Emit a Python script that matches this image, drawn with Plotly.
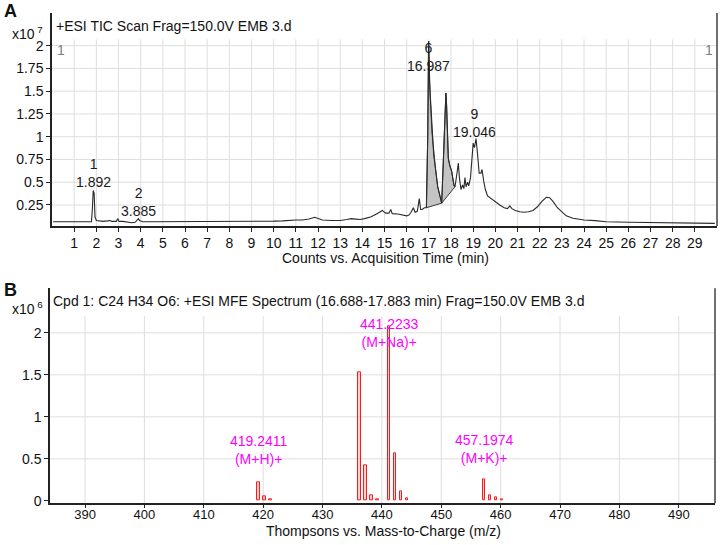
import numpy as np
import plotly.graph_objects as go

# ---------------- DATA ----------------
# Panel A: TIC chromatogram (counts x10^7)
tic_time = [0.05, 1.0, 1.78, 1.82, 1.86, 1.9, 1.94, 2.0, 2.1, 2.3, 2.5, 2.6, 2.7, 2.9, 2.97, 3.02,
            3.2, 3.4, 3.6, 3.75, 3.85, 3.9, 3.95, 4.1, 4.5, 5.0, 5.5, 5.52, 5.55, 6.0, 6.2, 6.5,
            7.0, 8.0, 9.0, 10.0, 10.4, 10.6, 10.8, 11.0, 11.3, 11.6, 11.85, 12.0, 12.2, 12.6,
            13.0, 13.3, 13.5, 13.7, 13.9, 14.1, 14.4, 14.7, 14.9, 15.05, 15.2, 15.28, 15.35,
            15.6, 15.8, 16.0, 16.1, 16.2, 16.3, 16.38, 16.48, 16.57, 16.63, 16.7, 16.8, 16.89,
            16.95, 16.99, 17.03, 17.06, 17.14, 17.22, 17.3, 17.4, 17.5, 17.58, 17.65, 17.72,
            17.77, 17.8, 17.84, 17.88, 17.95, 18.03, 18.13, 18.18, 18.27, 18.33, 18.38, 18.45,
            18.52, 18.58, 18.63, 18.68, 18.75, 18.8, 18.88, 18.95, 19.0, 19.06, 19.13, 19.2,
            19.27, 19.35, 19.4, 19.47, 19.55, 19.65, 19.75, 19.9, 20.05, 20.2, 20.4, 20.55,
            20.65, 20.75, 20.9, 21.1, 21.3, 21.5, 21.7, 21.9, 22.1, 22.3, 22.45, 22.6, 22.8,
            23.0, 23.2, 23.5, 23.8, 24.0, 24.5, 25.0, 26.0, 27.0, 27.5, 28.0, 28.5, 29.0, 29.9]
tic_counts = [0.065, 0.065, 0.065, 0.2, 0.41, 0.38, 0.12, 0.08, 0.075, 0.07, 0.075, 0.08, 0.07, 0.07, 0.1, 0.07,
              0.07, 0.065, 0.055, 0.06, 0.09, 0.1, 0.08, 0.065, 0.065, 0.065, 0.065, 0.072, 0.065, 0.065, 0.068, 0.07,
              0.07, 0.07, 0.07, 0.072, 0.075, 0.08, 0.078, 0.085, 0.085, 0.095, 0.115, 0.1, 0.085, 0.08,
              0.08, 0.09, 0.1, 0.095, 0.09, 0.1, 0.12, 0.16, 0.19, 0.16, 0.16, 0.2, 0.155,
              0.15, 0.14, 0.13, 0.14, 0.17, 0.22, 0.17, 0.18, 0.32, 0.2, 0.2, 0.22, 0.22,
              1.0, 2.05, 1.6, 1.45, 1.05, 0.8, 0.65, 0.45, 0.35, 0.27, 0.7, 1.3,
              1.48, 1.35, 1.0, 0.76, 0.68, 0.62, 0.47, 0.45, 0.6, 0.71, 0.55, 0.42,
              0.47, 0.43, 0.55, 0.45, 0.5, 0.46, 0.55, 0.75, 0.93, 0.88, 0.98, 0.8,
              0.6, 0.6, 0.64, 0.52, 0.42, 0.35, 0.33, 0.31, 0.28, 0.25, 0.22, 0.21,
              0.24, 0.21, 0.19, 0.175, 0.17, 0.175, 0.19, 0.23, 0.29, 0.335, 0.33, 0.29, 0.22,
              0.17, 0.13, 0.105, 0.09, 0.085, 0.078, 0.065, 0.06, 0.055, 0.058, 0.053, 0.055, 0.05, 0.048]
# integrated (shaded) peak windows: start, end (min)
int_start = [16.89, 17.58]
int_end = [17.58, 18.18]
# peak labels
peak_num = ["1", "2", "6", "9"]
peak_rt = [1.892, 3.885, 16.987, 19.046]
peak_label_y = [0.6, 0.28, 1.88, 1.15]
tic_xticks = list(range(1, 30))
tic_yticks = [0.25, 0.5, 0.75, 1, 1.25, 1.5, 1.75, 2]

# Panel B: MS spectrum (counts x10^6)
ms_mz = [419.24, 420.24, 421.25, 436.27, 437.27, 438.28, 439.28, 441.22, 442.23, 443.23, 444.23,
         457.20, 458.20, 459.20, 460.20]
ms_int = [0.22, 0.055, 0.015, 1.53, 0.42, 0.07, 0.02, 2.08, 0.56, 0.11, 0.03,
          0.25, 0.07, 0.04, 0.015]
ms_label_mz = [419.2411, 441.2233, 457.1974]
ms_label_ion = ["(M+H)+", "(M+Na)+", "(M+K)+"]
ms_label_y = [0.6, 2.0, 0.62]
ms_xticks = [390, 400, 410, 420, 430, 440, 450, 460, 470, 480, 490]
ms_yticks = [0, 0.5, 1, 1.5, 2]

# ---------------- FIGURE ----------------
FONT = "Liberation Sans, Arial, sans-serif"
fig = go.Figure()

# shaded integration areas
t_arr = np.array(tic_time)
c_arr = np.array(tic_counts)
for s, e in zip(int_start, int_end):
    mask = (t_arr > s) & (t_arr < e)
    xs = [s] + list(t_arr[mask]) + [e]
    ys = [float(np.interp(s, t_arr, c_arr))] + list(c_arr[mask]) + [float(np.interp(e, t_arr, c_arr))]
    xs = xs + [s]
    ys = ys + [ys[0]]
    fig.add_trace(go.Scatter(x=xs, y=ys, fill="toself", fillcolor="#c4c4c4",
                             line=dict(color="#3a3a3a", width=1), mode="lines",
                             xaxis="x", yaxis="y", hoverinfo="skip", showlegend=False))

fig.add_trace(go.Scatter(x=tic_time, y=tic_counts, mode="lines",
                         line=dict(color="#2a2a2a", width=1.1),
                         xaxis="x", yaxis="y", showlegend=False))

fig.add_trace(go.Bar(x=ms_mz, y=ms_int, width=0.45,
                     marker=dict(color="rgba(255,120,120,0.35)", line=dict(color="#ff1a1a", width=1)),
                     xaxis="x2", yaxis="y2", showlegend=False))

A_XR = [0.0, 30.0]
A_YR = [0.02, 2.36]
B_XR = [384.1, 496.1]
B_YR = [-0.03, 2.53]
A_GRID_TOP = 2.07
B_GRID_TOP = 2.2

shapes = []
grid_col = "#dedede"
for t in tic_xticks:
    shapes.append(dict(type="line", xref="x", yref="y", x0=t, x1=t, y0=A_YR[0], y1=A_GRID_TOP,
                       line=dict(color=grid_col, width=1), layer="below"))
for v in tic_yticks:
    shapes.append(dict(type="line", xref="x", yref="y", x0=A_XR[0], x1=A_XR[1], y0=v, y1=v,
                       line=dict(color=grid_col, width=1), layer="below"))
for t in ms_xticks:
    shapes.append(dict(type="line", xref="x2", yref="y2", x0=t, x1=t, y0=B_YR[0], y1=B_GRID_TOP,
                       line=dict(color=grid_col, width=1), layer="below"))
for v in ms_yticks[1:]:
    shapes.append(dict(type="line", xref="x2", yref="y2", x0=B_XR[0], x1=B_XR[1], y0=v, y1=v,
                       line=dict(color=grid_col, width=1), layer="below"))
# right borders
shapes.append(dict(type="line", xref="x domain", yref="y domain", x0=1, x1=1, y0=0, y1=1,
                   line=dict(color="#404040", width=1.5)))
shapes.append(dict(type="line", xref="x2 domain", yref="y2 domain", x0=1, x1=1, y0=0, y1=1,
                   line=dict(color="#404040", width=1.5)))

ann = []
for n, rt, y in zip(peak_num, peak_rt, peak_label_y):
    ann.append(dict(x=rt, y=y, xref="x", yref="y", text=f"{n}<br>{rt:.3f}", showarrow=False,
                    font=dict(size=14, color="#1a1a1a", family=FONT), yanchor="middle"))
for mz, ion, y in zip(ms_label_mz, ms_label_ion, ms_label_y):
    ann.append(dict(x=mz, y=y, xref="x2", yref="y2", text=f"{mz:.4f}<br>{ion}", showarrow=False,
                    font=dict(size=14, color="#ff00ff", family=FONT), yanchor="middle"))

def ptxt(x, y, text, size=14, color="#111111", xanchor="left", yanchor="middle"):
    ann.append(dict(x=x / 720, y=1 - y / 545, xref="paper", yref="paper", text=text, showarrow=False,
                    font=dict(size=size, color=color, family=FONT), xanchor=xanchor, yanchor=yanchor,
                    borderpad=0))

ptxt(3, 11, "<b>A</b>", size=18)
ptxt(3, 293, "<b>B</b>", size=18)
ptxt(11, 33, "x10<sup> 7</sup>", size=14)
ptxt(11, 311, "x10<sup> 6</sup>", size=14)
ptxt(55, 26, "+ESI TIC Scan Frag=150.0V EMB 3.d", size=14)
ptxt(52, 304, "Cpd 1: C24 H34 O6: +ESI MFE Spectrum (16.688-17.883 min) Frag=150.0V EMB 3.d", size=14)
ptxt(56, 50, "1", size=14, color="#808080")
ptxt(709, 50, "1", size=14, color="#808080", xanchor="center")
# axis titles
ptxt(385, 260, "Counts vs. Acquisition Time (min)", size=14, xanchor="center")
ptxt(383, 545, "Thompsons vs. Mass-to-Charge (m/z)", size=14, xanchor="center", yanchor="bottom")

axis_common = dict(showline=True, linecolor="#222222", linewidth=1.5, ticks="outside", ticklen=4,
                   tickcolor="#222222", showgrid=False, zeroline=False,
                   tickfont=dict(size=14, color="#111111", family=FONT))
axis_b_x = dict(axis_common)
axis_b_x["tickfont"] = dict(size=13, color="#111111", family=FONT)
axis_b_x["ticklen"] = 3
axis_b_x["ticklabelstandoff"] = -5

fig.update_layout(
    width=720, height=545,
    margin=dict(l=0, r=0, t=0, b=0),
    plot_bgcolor="white", paper_bgcolor="white",
    font=dict(family=FONT),
    bargap=0,
    xaxis=dict(domain=[52 / 720, 717 / 720], anchor="y", range=A_XR, tickvals=tic_xticks,
               **axis_common),
    yaxis=dict(domain=[1 - 228 / 545, 1 - 13 / 545], anchor="x", range=A_YR, tickvals=tic_yticks,
               ticktext=[f"{v:g}" for v in tic_yticks], **axis_common),
    xaxis2=dict(domain=[50 / 720, 715 / 720], anchor="y2", range=B_XR, tickvals=ms_xticks,
                **axis_b_x),
    yaxis2=dict(domain=[1 - 508 / 545, 1 - 291 / 545], anchor="x2", range=B_YR, tickvals=ms_yticks,
                ticktext=[f"{v:g}" for v in ms_yticks], **axis_common),
    shapes=shapes,
    annotations=ann,
)

fig.write_html("out.html", config={"displayModeBar": False},
               post_script="document.body.style.margin='0';document.body.style.overflow='hidden';")
